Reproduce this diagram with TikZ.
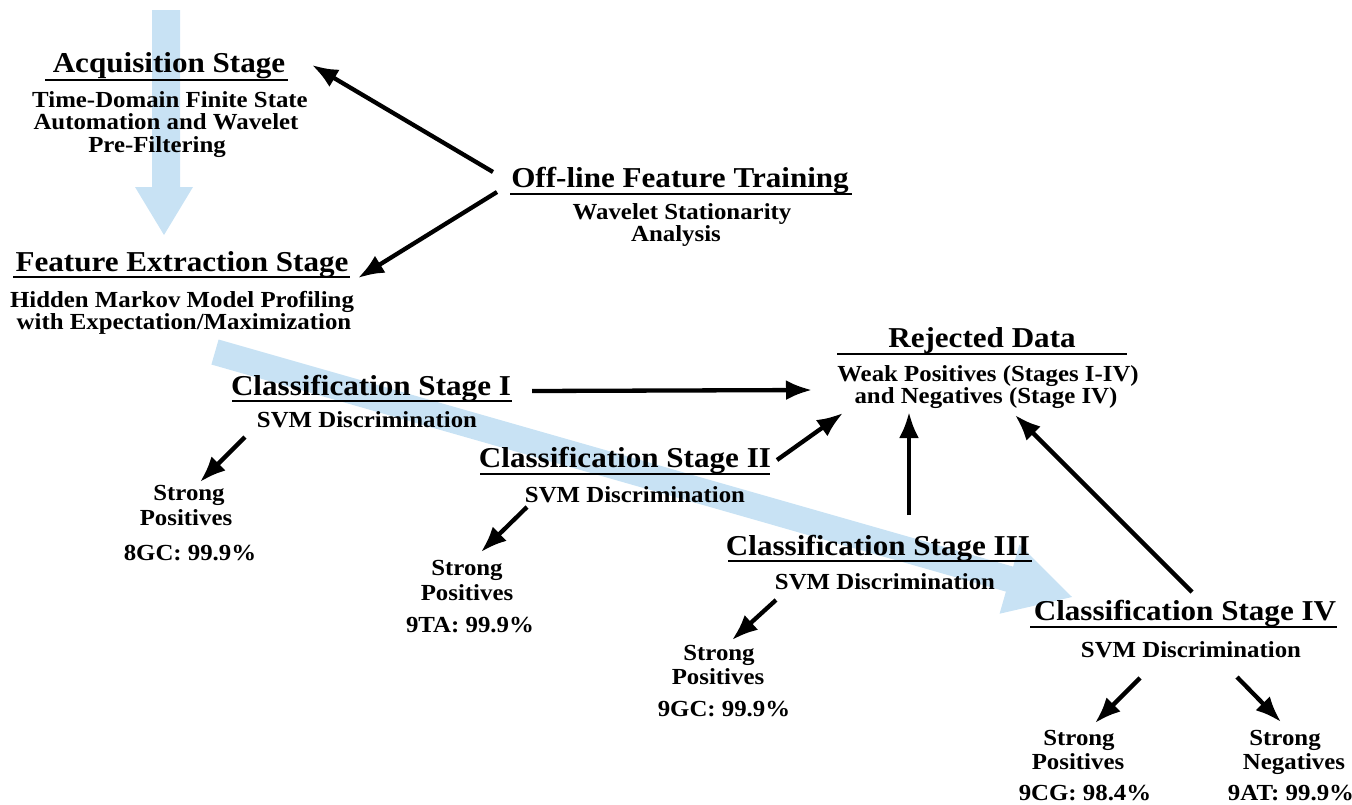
\documentclass[tikz,border=0pt]{standalone}
\usepackage{fontspec}
\setmainfont{Liberation Serif}[FakeStretch=1.08]
\usetikzlibrary{arrows.meta}
\definecolor{bandblue}{RGB}{200,226,244}
\begin{document}
\begin{tikzpicture}[x=1pt,y=-1pt,
  head/.style={anchor=base,inner sep=0pt,font=\fontsize{28.8}{28.8}\selectfont\bfseries},
  sub/.style={anchor=base,inner sep=0pt,font=\fontsize{23}{23}\selectfont\bfseries},
  uline/.style={line width=2.6pt},
  arr/.style={line width=4.3pt,-{Latex[length=26pt,width=20pt]}},
  band/.style={fill=bandblue,draw=none}]
\useasboundingbox (0,0) rectangle (1352,804);
\clip (0,0) rectangle (1352,804);
% background flow bands
\path[band] (152,10) -- (180,10) -- (180,187) -- (193,187) -- (164,235) -- (135,187) -- (152,187) -- cycle;
\path[band] (218.6,339.5) -- (1013.1,566.6) -- (1019.4,544.5) -- (1072,597) -- (999.6,613.7) -- (1005.9,591.6) -- (211.4,364.5) -- cycle;
% texts
\node[head] (acqh) at (169,72) {Acquisition Stage};
\node[sub] (acqs1) at (170,107) {Time-Domain Finite State};
\node[sub] (acqs2) at (166,129) {Automation and Wavelet};
\node[sub] (acqs3) at (157,152) {Pre-Filtering};
\node[head] (feah) at (182,271) {Feature Extraction Stage};
\node[sub] (feas1) at (182,307) {Hidden Markov Model Profiling};
\node[sub] (feas2) at (184,329) {with Expectation/Maximization};
\node[head] (offh) at (680,187) {Off-line Feature Training};
\node[sub] (offs1) at (682,219) {Wavelet Stationarity};
\node[sub] (offs2) at (676,241) {Analysis};
\node[head] (rejh) at (982,347) {Rejected Data};
\node[sub] (rejs1) at (988,381) {Weak Positives (Stages I-IV)};
\node[sub] (rejs2) at (986,403) {and Negatives (Stage IV)};
\node[head] (c1h) at (371,395) {Classification Stage I};
\node[sub] (c1s) at (367,427) {SVM Discrimination};
\node[sub] (sp1a) at (189,500) {Strong};
\node[sub] (sp1b) at (186,525) {Positives};
\node[sub] (sp1c) at (190,560) {8GC: 99.9\%};
\node[head] (c2h) at (625,467) {Classification Stage II};
\node[sub] (c2s) at (635,502) {SVM Discrimination};
\node[sub] (sp2a) at (467,575) {Strong};
\node[sub] (sp2b) at (467,600) {Positives};
\node[sub] (sp2c) at (470,632) {9TA: 99.9\%};
\node[head] (c3h) at (878,555) {Classification Stage III};
\node[sub] (c3s) at (885,589) {SVM Discrimination};
\node[sub] (sp3a) at (719,660) {Strong};
\node[sub] (sp3b) at (718,684) {Positives};
\node[sub] (sp3c) at (724,716) {9GC: 99.9\%};
\node[head] (c4h) at (1185,620) {Classification Stage IV};
\node[sub] (c4s) at (1191,657) {SVM Discrimination};
\node[sub] (sp4a) at (1079,745) {Strong};
\node[sub] (sp4b) at (1078,769) {Positives};
\node[sub] (sp4c) at (1085,800) {9CG: 98.4\%};
\node[sub] (sn4a) at (1285,745) {Strong};
\node[sub] (sn4b) at (1294,769) {Negatives};
\node[sub] (sn4c) at (1291,800) {9AT: 99.9\%};
% underlines
\draw[uline] ([shift={(-124,8)}]acqh.base) -- ([shift={(119,8)}]acqh.base);
\draw[uline] ([shift={(-169,6)}]feah.base) -- ([shift={(168,6)}]feah.base);
\draw[uline] ([shift={(-170,7)}]offh.base) -- ([shift={(172,7)}]offh.base);
\draw[uline] ([shift={(-145,7)}]rejh.base) -- ([shift={(145,7)}]rejh.base);
\draw[uline] ([shift={(-139,6)}]c1h.base) -- ([shift={(141,6)}]c1h.base);
\draw[uline] ([shift={(-145,7)}]c2h.base) -- ([shift={(145,7)}]c2h.base);
\draw[uline] ([shift={(-150,6)}]c3h.base) -- ([shift={(154,6)}]c3h.base);
\draw[uline] ([shift={(-155,7)}]c4h.base) -- ([shift={(152,7)}]c4h.base);
% connectors
\draw[arr] ([shift={(-187,-15)}]offh.base) -- ([shift={(143,-7)}]acqh.base);
\draw[arr] ([shift={(-183,5)}]offh.base) -- ([shift={(176,7)}]feah.base);
\draw[arr] ([shift={(161,-4)}]c1h.base) -- ([shift={(-176,9)}]rejs1.base);
\draw[arr] ([shift={(152,-7)}]c2h.base) -- ([shift={(-143,10)}]rejs2.base);
\draw[arr] ([shift={(31,-40)}]c3h.base) -- ([shift={(-77,9)}]rejs2.base);
\draw[arr] ([shift={(7,-28)}]c4h.base) -- ([shift={(29,12)}]rejs2.base);
\draw[arr] ([shift={(-122,10)}]c1s.base) -- ([shift={(11,-18)}]sp1a.base);
\draw[arr] ([shift={(-108,5)}]c2s.base) -- ([shift={(14,-23)}]sp2a.base);
\draw[arr] ([shift={(-109,11)}]c3s.base) -- ([shift={(13,-20)}]sp3a.base);
\draw[arr] ([shift={(-51,21)}]c4s.base) -- ([shift={(16,-22)}]sp4a.base);
\draw[arr] ([shift={(46,20)}]c4s.base) -- ([shift={(-4,-23)}]sn4a.base);
\end{tikzpicture}
\end{document}
